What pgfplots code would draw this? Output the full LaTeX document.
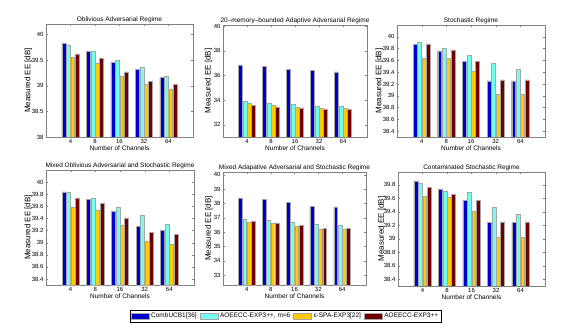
\documentclass[border=0pt]{standalone}
\usepackage{pgfplots}
\pgfplotsset{compat=1.18}
\usepackage{fontspec}
\setmainfont{Liberation Sans}

\definecolor{cBlue}{RGB}{0,0,205}
\definecolor{cCyan}{RGB}{115,255,238}
\definecolor{cYellow}{RGB}{255,204,0}
\definecolor{cMaroon}{RGB}{110,0,0}
\definecolor{axgray}{RGB}{130,130,130}

\pgfplotsset{
  regime/.style={
    scale only axis, anchor=south west,
    ybar, bar width=0.16,
    xmin=0, xmax=6,
    xtick={1,2,3,4,5}, xticklabels={4,8,16,32,64},
    tick align=inside, major tick length=2pt,
    axis line style={axgray}, tick style={axgray},
    tick label style={font=\fontsize{6}{7}\selectfont},
    /pgf/number format/assume math mode=true,
    every axis title shift=0pt,
    title style={font=\fontsize{6.5}{7}\selectfont, at={(0.5,1)}, anchor=south, inner sep=0pt, yshift=1pt},
    xlabel={Number of Channels}, ylabel={Measured EE [dB]},
    xlabel style={font=\fontsize{6.5}{7}\selectfont, yshift=5pt},
    ylabel style={font=\fontsize{8}{9}\selectfont, at={(axis description cs:-0.12,0.5)}, anchor=center},
    xticklabel style={yshift=1pt},
    yticklabel style={xshift=1pt},
  },
  b1/.style={fill=cBlue, draw=gray!70, bar shift=-0.27},
  b2/.style={fill=cCyan, draw=gray!70, bar shift=-0.09},
  b3/.style={fill=cYellow, draw=gray!70, bar shift=0.09},
  b4/.style={fill=cMaroon, draw=gray!70, bar shift=0.27},
}

\begin{document}
\begin{tikzpicture}
  \useasboundingbox (0pt,0pt) rectangle (564pt,329pt);

  % top row
  \begin{axis}[regime, at={(46pt,192pt)}, width=147pt, height=113pt,
      title={Oblivious Adversarial Regime},
      ymin=38, ymax=40.2, ytick={38,38.5,39,39.5,40}]
    \addplot[b1] coordinates {(1,39.83) (2,39.67) (3,39.46) (4,39.32) (5,39.16)};
    \addplot[b2] coordinates {(1,39.79) (2,39.67) (3,39.49) (4,39.35) (5,39.18)};
    \addplot[b3] coordinates {(1,39.56) (2,39.44) (3,39.18) (4,39.03) (5,38.93)};
    \addplot[b4] coordinates {(1,39.62) (2,39.53) (3,39.27) (4,39.09) (5,39.03)};
  \end{axis}

  \begin{axis}[regime, at={(223pt,192pt)}, width=144pt, height=112pt,
      title={20--memory--bounded Adaptive Adversarial Regime},
      ylabel style={at={(axis description cs:-0.1,0.5)}},
      ymin=31, ymax=40.1, ytick={32,34,36,38,40}]
    \addplot[b1] coordinates {(1,36.86) (2,36.72) (3,36.51) (4,36.39) (5,36.29)};
    \addplot[b2] coordinates {(1,33.91) (2,33.72) (3,33.64) (4,33.50) (5,33.50)};
    \addplot[b3] coordinates {(1,33.72) (2,33.58) (3,33.44) (4,33.36) (5,33.36)};
    \addplot[b4] coordinates {(1,33.58) (2,33.44) (3,33.36) (4,33.25) (5,33.25)};
  \end{axis}

  \begin{axis}[regime, at={(397pt,192pt)}, width=148pt, height=112pt,
      title={Stochastic Regime},
      ymin=38.3, ymax=40.2, ytick={38.4,38.6,38.8,39,39.2,39.4,39.6,39.8,40}]
    \addplot[b1] coordinates {(1,39.87) (2,39.76) (3,39.58) (4,39.25) (5,39.25)};
    \addplot[b2] coordinates {(1,39.90) (2,39.80) (3,39.69) (4,39.55) (5,39.45)};
    \addplot[b3] coordinates {(1,39.64) (2,39.64) (3,39.42) (4,39.03) (5,39.03)};
    \addplot[b4] coordinates {(1,39.88) (2,39.78) (3,39.58) (4,39.27) (5,39.27)};
  \end{axis}

  % bottom row
  \begin{axis}[regime, at={(46pt,44pt)}, width=148pt, height=115pt,
      title={Mixed Oblivious Adversarial and Stochastic Regime},
      ymin=38.3, ymax=40.2, ytick={38.4,38.6,38.8,39,39.2,39.4,39.6,39.8,40}]
    \addplot[b1] coordinates {(1,39.84) (2,39.71) (3,39.52) (4,39.27) (5,39.20)};
    \addplot[b2] coordinates {(1,39.84) (2,39.73) (3,39.59) (4,39.45) (5,39.31)};
    \addplot[b3] coordinates {(1,39.59) (2,39.53) (3,39.29) (4,39.02) (5,38.97)};
    \addplot[b4] coordinates {(1,39.74) (2,39.65) (3,39.41) (4,39.17) (5,39.14)};
  \end{axis}

  \begin{axis}[regime, at={(223pt,44pt)}, width=143pt, height=113pt,
      title={Mixed Adapative Adversarial and Stochastic Regime},
      ylabel style={at={(axis description cs:-0.1,0.5)}},
      ymin=32.3, ymax=40.2, ytick={33,34,35,36,37,38,39,40},
      legend columns=4,
      legend style={at={(0.437,-0.274)}, anchor=center, draw=black, fill=white,
        font=\fontsize{6.5}{7}\selectfont, inner sep=1pt,
        /tikz/every even column/.append style={column sep=1pt}},
      legend image code/.code={\draw[#1] (0pt,-2.8pt) rectangle (18pt,2.8pt);}]
    \addplot[b1] coordinates {(1,38.39) (2,38.30) (3,38.07) (4,37.81) (5,37.77)};
    \addlegendentry{CombUCB1[36]}
    \addplot[b2] coordinates {(1,36.92) (2,36.80) (3,36.71) (4,36.55) (5,36.51)};
    \addlegendentry{AOEECC-EXP3++, m=6}
    \addplot[b3] coordinates {(1,36.69) (2,36.62) (3,36.43) (4,36.20) (5,36.18)};
    \addlegendentry{ε-SPA-EXP3[22]}
    \addplot[b4] coordinates {(1,36.78) (2,36.64) (3,36.48) (4,36.27) (5,36.25)};
    \addlegendentry{AOEECC-EXP3++}
  \end{axis}

  \begin{axis}[regime, at={(398pt,43pt)}, width=147pt, height=114pt,
      title={Contaminated Stochastic Regime},
      ylabel style={at={(axis description cs:-0.11,0.5)}},
      ymin=38.3, ymax=39.99, ytick={38.4,38.6,38.8,39,39.2,39.4,39.6,39.8}]
    \addplot[b1] coordinates {(1,39.86) (2,39.74) (3,39.57) (4,39.24) (5,39.24)};
    \addplot[b2] coordinates {(1,39.82) (2,39.71) (3,39.69) (4,39.47) (5,39.37)};
    \addplot[b3] coordinates {(1,39.63) (2,39.61) (3,39.41) (4,39.02) (5,39.02)};
    \addplot[b4] coordinates {(1,39.76) (2,39.66) (3,39.57) (4,39.25) (5,39.25)};
  \end{axis}
\end{tikzpicture}
\end{document}
